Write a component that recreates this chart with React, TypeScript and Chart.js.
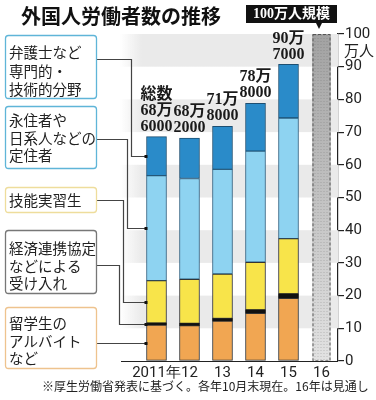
import React, { useEffect, useRef } from "react";
import { Chart, registerables } from "chart.js";

Chart.register(...registerables);

// ---- data ----
const categories = ["2011年", "12", "13", "14", "15", "16"];
const studentWork = [11.0, 10.8, 12.2, 14.6, 19.2, null];
const epaWorkers = [0.6, 0.7, 0.8, 1.0, 1.3, null];
const trainees = [13.0, 13.5, 13.6, 14.6, 16.9, null];
const residents = [32.1, 30.8, 32.0, 34.0, 36.9, null];
const professionals = [11.9, 12.4, 13.2, 14.6, 16.4, null];
const projection = [null, null, null, null, null, 100];
const totals = [686000, 682000, 718000, 788000, 907000];
const yTicks = [0, 10, 20, 30, 40, 50, 60, 70, 80, 90, 100];

const titleText = "外国人労働者数の推移";
const calloutText = "100万人規模";
const unitText = "万人";
const totalPrefix = "総数";
const footnoteText = "※厚生労働省発表に基づく。各年10月末現在。16年は見通し";

const legendLines = [
  ["弁護士など", "専門的・", "技術的分野"],
  ["永住者や", "日系人などの", "定住者"],
  ["技能実習生"],
  ["経済連携協定", "などによる", "受け入れ"],
  ["留学生の", "アルバイト", "など"],
];

const COLORS = {
  orange: "#f1a652",
  black: "#111111",
  yellow: "#f8e44a",
  light: "#8ed3f1",
  dark: "#2a8bc9",
};

const JP = "'Noto Sans CJK JP', 'Noto Sans', sans-serif";

const decorPlugin = {
  id: "decor",
  beforeDatasetsDraw(chart: any) {
    const { ctx, chartArea, scales } = chart;
    const y = scales.y;
    ctx.save();
    for (let v = 10; v < 100; v += 20) {
      const top = y.getPixelForValue(v + 10);
      const bot = y.getPixelForValue(v);
      const g = ctx.createLinearGradient(120, 0, 142, 0);
      g.addColorStop(0, "rgba(234,234,234,0)");
      g.addColorStop(1, "rgba(234,234,234,1)");
      ctx.fillStyle = g;
      ctx.fillRect(120, top, chartArea.right - 120, bot - top);
    }
    ctx.restore();
  },
  afterDatasetsDraw(chart: any) {
    const { ctx, scales, chartArea } = chart;
    const y = scales.y;
    ctx.save();

    // projection bar: dots + dashed outline
    const pMeta = chart.getDatasetMeta(5);
    const pb: any = pMeta.data[5];
    if (pb) {
      const left = pb.x - pb.width / 2;
      const right = pb.x + pb.width / 2;
      const top = pb.y;
      const base = pb.base;
      ctx.fillStyle = "rgba(90,90,90,0.28)";
      for (let yy = top + 1; yy < base; yy += 3) {
        for (let xx = left + 1 + ((yy / 3) % 2 ? 1 : 0); xx < right - 1; xx += 3) {
          ctx.fillRect(xx, yy, 1, 1);
        }
      }
      ctx.setLineDash([3, 2]);
      ctx.strokeStyle = "#555";
      ctx.lineWidth = 1;
      ctx.strokeRect(left + 0.5, top + 0.5, right - left - 1, base - top);
      ctx.setLineDash([]);
    }

    // baseline
    ctx.strokeStyle = "#222";
    ctx.lineWidth = 1.2;
    ctx.beginPath();
    ctx.moveTo(121, chartArea.bottom + 0.5);
    ctx.lineTo(chartArea.right, chartArea.bottom + 0.5);
    ctx.stroke();

    // total labels above bars
    const series = [studentWork, epaWorkers, trainees, residents, professionals];
    ctx.fillStyle = "#1a1a1a";
    ctx.textAlign = "center";
    ctx.textBaseline = "middle";
    ctx.font = "bold 16px 'Liberation Serif', 'Noto Sans CJK JP', serif";
    const meta0 = chart.getDatasetMeta(0);
    totals.forEach((t, i) => {
      const sum = series.reduce((a, s) => a + (s[i] as number), 0);
      const topY = y.getPixelForValue(sum);
      const x = meta0.data[i].x;
      const lines = [Math.floor(t / 10000) + "万", String(t % 10000)];
      if (i === 0) lines.unshift(totalPrefix);
      const n = lines.length;
      lines.forEach((ln, k) => {
        ctx.fillText(ln, x, topY - 10 - (n - 1 - k) * 16);
      });
    });

    // connectors from legend boxes to 2011 bar
    const bar0: any = meta0.data[0];
    const endX = bar0.x - bar0.width / 2;
    let cum = 0;
    const mids: number[] = [];
    series.forEach((s) => {
      const v = s[0] as number;
      mids.push(cum + v / 2);
      cum += v;
    });
    // order: legend box index -> series index
    const conn = [
      { sy: 59, vx: 131, s: 4 },
      { sy: 139, vx: 127, s: 3 },
      { sy: 200, vx: 123, s: 2 },
      { sy: 265, vx: 119, s: 1 },
      { sy: 343, vx: null, s: 0 },
    ];
    ctx.strokeStyle = "#444";
    ctx.lineWidth = 1.2;
    conn.forEach((c) => {
      const ey = Math.round(y.getPixelForValue(mids[c.s])) + 0.5;
      ctx.beginPath();
      ctx.moveTo(97, c.sy + 0.5);
      if (c.vx !== null) {
        ctx.lineTo(c.vx + 0.5, c.sy + 0.5);
        ctx.lineTo(c.vx + 0.5, ey);
        ctx.lineTo(endX, ey);
      } else {
        ctx.lineTo(endX, c.sy + 0.5);
      }
      ctx.stroke();
      ctx.fillStyle = "#111";
      ctx.fillRect(endX - 2, (c.vx !== null ? ey : c.sy + 0.5) - 1.5, 3, 3);
    });
    ctx.restore();
  },
  afterDraw(chart: any) {
    const { ctx } = chart;
    ctx.save();
    // title
    ctx.fillStyle = "#111";
    ctx.textAlign = "left";
    ctx.textBaseline = "middle";
    ctx.font = `bold 20px ${JP}`;
    ctx.fillText(titleText, 21, 16);

    // callout
    ctx.fillStyle = "#111";
    ctx.fillRect(246, 5, 91, 18);
    ctx.beginPath();
    ctx.moveTo(316, 23);
    ctx.lineTo(322, 23);
    ctx.lineTo(319, 29);
    ctx.closePath();
    ctx.fill();
    ctx.fillStyle = "#fff";
    ctx.textAlign = "center";
    ctx.font = `bold 14px 'Liberation Serif', ${JP}`;
    ctx.fillText(calloutText, 291.5, 14.5);

    // unit
    ctx.fillStyle = "#222";
    ctx.textAlign = "left";
    ctx.font = `15px ${JP}`;
    ctx.fillText(unitText, 344, 50);

    // legend boxes
    const boxes = [
      { y: 35, h: 63, c: "#5fb5d8", lines: [52, 71, 89] },
      { y: 106, h: 62, c: "#5fb5d8", lines: [120, 138, 155] },
      { y: 187, h: 25, c: "#eedd9c", lines: [200] },
      { y: 230, h: 63, c: "#777777", lines: [248, 266, 283] },
      { y: 307, h: 61, c: "#eec38e", lines: [323, 341, 358] },
    ];
    boxes.forEach((b, i) => {
      ctx.beginPath();
      const x = 5.5, w = 91, r = 3;
      const yy = b.y + 0.5;
      ctx.moveTo(x + r, yy);
      ctx.lineTo(x + w - r, yy);
      ctx.quadraticCurveTo(x + w, yy, x + w, yy + r);
      ctx.lineTo(x + w, yy + b.h - r);
      ctx.quadraticCurveTo(x + w, yy + b.h, x + w - r, yy + b.h);
      ctx.lineTo(x + r, yy + b.h);
      ctx.quadraticCurveTo(x, yy + b.h, x, yy + b.h - r);
      ctx.lineTo(x, yy + r);
      ctx.quadraticCurveTo(x, yy, x + r, yy);
      ctx.closePath();
      ctx.fillStyle = "#fff";
      ctx.fill();
      ctx.strokeStyle = b.c;
      ctx.lineWidth = 1.3;
      ctx.stroke();
      ctx.fillStyle = "#222";
      ctx.font = `14.5px ${JP}`;
      ctx.textAlign = "left";
      legendLines[i].forEach((t, k) => ctx.fillText(t, 9, b.lines[k]));
    });

    // footnote
    ctx.fillStyle = "#222";
    ctx.font = `12px ${JP}`;
    ctx.textAlign = "left";
    ctx.fillText(footnoteText, 42, 386);
    ctx.restore();
  },
};

export default function App() {
  const ref = useRef<HTMLCanvasElement | null>(null);
  useEffect(() => {
    if (!ref.current) return;
    const mk = (label: string, data: any[], color: string, border = "#333", bw = 1) => ({
      label,
      data,
      backgroundColor: color,
      borderColor: border,
      borderWidth: bw,
      borderSkipped: false,
      barThickness: 20,
      stack: "s",
    });
    const chart = new Chart(ref.current, {
      type: "bar",
      data: {
        labels: categories,
        datasets: [
          mk("留学生のアルバイトなど", studentWork, COLORS.orange),
          mk("経済連携協定などによる受け入れ", epaWorkers, COLORS.black, "#111", 0),
          mk("技能実習生", trainees, COLORS.yellow),
          mk("永住者や日系人などの定住者", residents, COLORS.light, "#2b5f80"),
          mk("弁護士など専門的・技術的分野", professionals, COLORS.dark, "#1d4f72"),
          {
            label: "見通し",
            data: projection,
            backgroundColor: (c: any) => {
              const { chart: ch } = c;
              const area = ch.chartArea;
              if (!area) return "#bbb";
              const g = ch.ctx.createLinearGradient(0, area.top, 0, area.bottom);
              g.addColorStop(0, "#a2a2a2");
              g.addColorStop(1, "#e2e2e2");
              return g;
            },
            borderWidth: 0,
            barThickness: 18,
            stack: "s",
          } as any,
        ],
      },
      options: {
        responsive: false,
        maintainAspectRatio: false,
        animation: false,
        layout: { padding: { top: 34, left: 140, right: 0, bottom: 0 } },
        plugins: {
          legend: { display: false },
          tooltip: { enabled: false },
          title: { display: false },
        },
        scales: {
          x: {
            stacked: true,
            grid: { display: false, drawTicks: false },
            border: { display: false },
            ticks: {
              color: "#222",
              font: { family: "Roboto", size: 15 },
              padding: 3,
              maxRotation: 0,
              autoSkip: false,
            },
            afterFit: (s: any) => {
              s.height = 39;
            },
          },
          y: {
            stacked: true,
            position: "right",
            min: 0,
            max: 100,
            afterBuildTicks: (s: any) => {
              s.ticks = yTicks.map((v) => ({ value: v }));
            },
            grid: {
              drawOnChartArea: false,
              drawTicks: true,
              tickLength: 6,
              color: "#222",
              lineWidth: 1.2,
            },
            border: { display: true, color: "#222", width: 1.2 },
            ticks: {
              color: "#222",
              font: { family: "Roboto", size: 15 },
              padding: 1,
            },
            afterFit: (s: any) => {
              s.width = 38;
            },
          },
        },
      },
      plugins: [decorPlugin],
    } as any);
    return () => chart.destroy();
  }, []);
  return (
    <div style={{ position: "absolute", left: 0, top: 0, width: 376, height: 400, background: "#fff" }}>
      <canvas ref={ref} width={376} height={400} style={{ width: 376, height: 400, display: "block" }} />
    </div>
  );
}
